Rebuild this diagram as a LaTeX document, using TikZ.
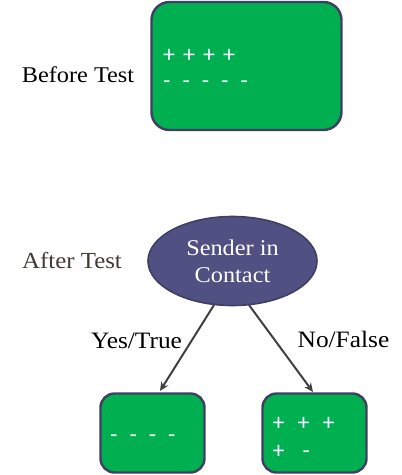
\documentclass[tikz,border=0pt]{standalone}
\usepackage{fontspec}
\setmainfont{Liberation Serif}[FakeStretch=1.08]
\newfontfamily\plusfont{Carlito}
\usetikzlibrary{shapes.geometric,arrows.meta}
\definecolor{boxgreen}{HTML}{00AF50}
\definecolor{edgeslate}{HTML}{3F3F64}
\definecolor{ellfill}{HTML}{505082}
\definecolor{linegray}{HTML}{404040}
\definecolor{signcol}{HTML}{F4FFFF}
\definecolor{aftercol}{HTML}{3F3A35}
\newcommand{\pl}{\hspace{8pt}}
\newcommand{\mn}{\hspace{12pt}}
\begin{document}
\begin{tikzpicture}[x=1pt,y=-1pt,
  gbox/.style={draw=edgeslate,line width=2.4pt,fill=boxgreen,rounded corners=18pt,inner sep=0pt},
  sign/.style={font=\plusfont\fontsize{24}{24}\selectfont,text=signcol,anchor=west,inner sep=0pt},
  lbl/.style={font=\fontsize{22.5}{22.5}\selectfont,inner sep=0pt,anchor=base},
  conn/.style={draw=linegray,line width=2pt,-{Stealth[length=9pt,width=8pt]}}]
\useasboundingbox (0,0) rectangle (402,475);
% top box
\node[gbox,minimum width=190pt,minimum height=128pt] (top) at (246.5,66) {};
\node[sign] (tp) at (163,56) {+\pl+\pl+\pl+};
\node[sign] (tm) at (163,85) {-\mn-\mn-\mn-\mn-};
\node[lbl] (before) at (78,82) {Before Test};
% ellipse
\node[ellipse,draw=edgeslate,line width=1.6pt,fill=ellfill,minimum width=169pt,minimum height=89pt,
  inner sep=0pt] (ell) at (232.5,261) {};
\node[lbl,text=white] (snd) at (232.5,255) {Sender in};
\node[lbl,text=white] (cnt) at (232.5,282) {Contact};
\node[lbl,text=aftercol,font=\fontsize{23}{23}\selectfont] (after) at (72,268) {After Test};
% bottom boxes
\node[gbox,minimum width=104pt,minimum height=79pt,rounded corners=14pt] (bl) at (152.5,433) {};
\node[gbox,minimum width=104pt,minimum height=79pt,rounded corners=14pt] (br) at (314.5,433) {};
\node[sign] (blm) at (110,439) {-\mn-\mn-\mn-};
\node[sign] (brp) at (272.5,424) {+\hspace{13pt}+\hspace{13pt}+};
\node[sign] (brq) at (272.5,452) {+\hspace{18pt}-};
% connectors
\coordinate (s1) at (214,305);
\coordinate (e1) at (160,391);
\coordinate (s2) at (249,305);
\coordinate (e2) at (313,392);
\draw[conn] (s1) -- (e1);
\draw[conn] (s2) -- (e2);
\node[lbl,font=\fontsize{23.5}{23.5}\selectfont] (yes) at (136.5,348) {Yes/True};
\node[lbl,font=\fontsize{23.5}{23.5}\selectfont] (no) at (343.5,347) {No/False};
\end{tikzpicture}
\end{document}
